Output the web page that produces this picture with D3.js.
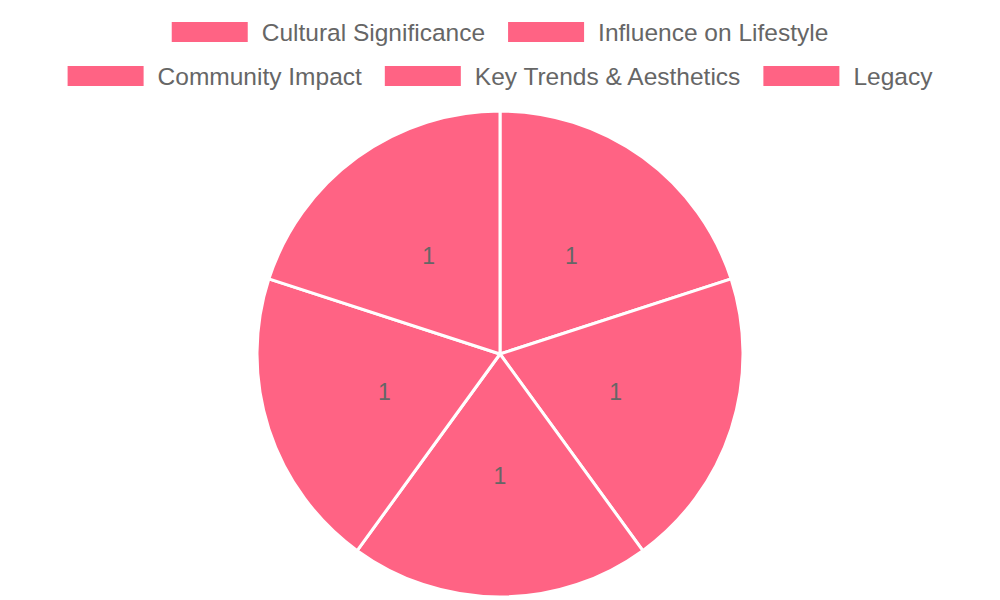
<!DOCTYPE html>
<html>
<head>
<meta charset="utf-8">
<script src="https://cdn.jsdelivr.net/npm/d3@7"></script>
<style>
  html, body { margin: 0; padding: 0; background: #fff; }
  text { font-family: "Liberation Sans", Arial, sans-serif; }
</style>
</head>
<body>
<script>
    // Chart data
    var categories = [
        "Cultural Significance",
        "Influence on Lifestyle",
        "Community Impact",
        "Key Trends & Aesthetics",
        "Legacy"
    ];
    var values = [1, 1, 1, 1, 1];
    var legendRows = [[0, 1], [2, 3, 4]];

    var width = 1000;
    var height = 600;
    var sliceColor = "#ff6384";
    var textColor = "#666666";

    var svg = d3.select("body")
        .append("svg")
        .attr("width", width)
        .attr("height", height);

    // Legend, centered row by row
    var legend = svg.append("g").attr("class", "legend");
    var boxW = 76, boxH = 20, boxGap = 14, itemGap = 23;

    legendRows.forEach(function (row, r) {
        var cy = 32 + r * 44;
        var items = row.map(function (idx) {
            var g = legend.append("g");
            g.append("rect")
                .attr("width", boxW)
                .attr("height", boxH)
                .attr("y", cy - boxH / 2)
                .style("fill", sliceColor);
            var t = g.append("text")
                .attr("x", boxW + boxGap)
                .attr("y", cy)
                .attr("dy", "0.35em")
                .style("font-size", "24.5px")
                .style("fill", textColor)
                .text(categories[idx]);
            return { g: g, w: boxW + boxGap + t.node().getComputedTextLength() };
        });
        var total = d3.sum(items, function (d) { return d.w; }) + itemGap * (items.length - 1);
        var x = (width - total) / 2;
        items.forEach(function (it) {
            it.g.attr("transform", "translate(" + x + ",0)");
            x += it.w + itemGap;
        });
    });

    // Pie
    var cx = 500, cy = 354, radius = 243;
    var pie = d3.pie().sort(null).value(function (d) { return d; });
    var arc = d3.arc().innerRadius(0).outerRadius(radius);
    var labelArc = d3.arc().innerRadius(radius / 2).outerRadius(radius / 2);

    var g = svg.append("g").attr("transform", "translate(" + cx + "," + cy + ")");
    var arcs = pie(values);

    g.selectAll(".slice")
        .data(arcs)
        .enter()
        .append("path")
        .attr("class", "slice")
        .attr("d", arc)
        .style("fill", sliceColor)
        .style("stroke", "#fff")
        .style("stroke-width", 3)
        .style("stroke-linejoin", "round");

    g.selectAll(".label")
        .data(arcs)
        .enter()
        .append("text")
        .attr("class", "label")
        .attr("transform", function (d) { return "translate(" + labelArc.centroid(d) + ")"; })
        .attr("text-anchor", "middle")
        .attr("dy", "0.35em")
        .style("font-size", "23px")
        .style("fill", textColor)
        .text(function (d) { return d.data; });
</script>
</body>
</html>
